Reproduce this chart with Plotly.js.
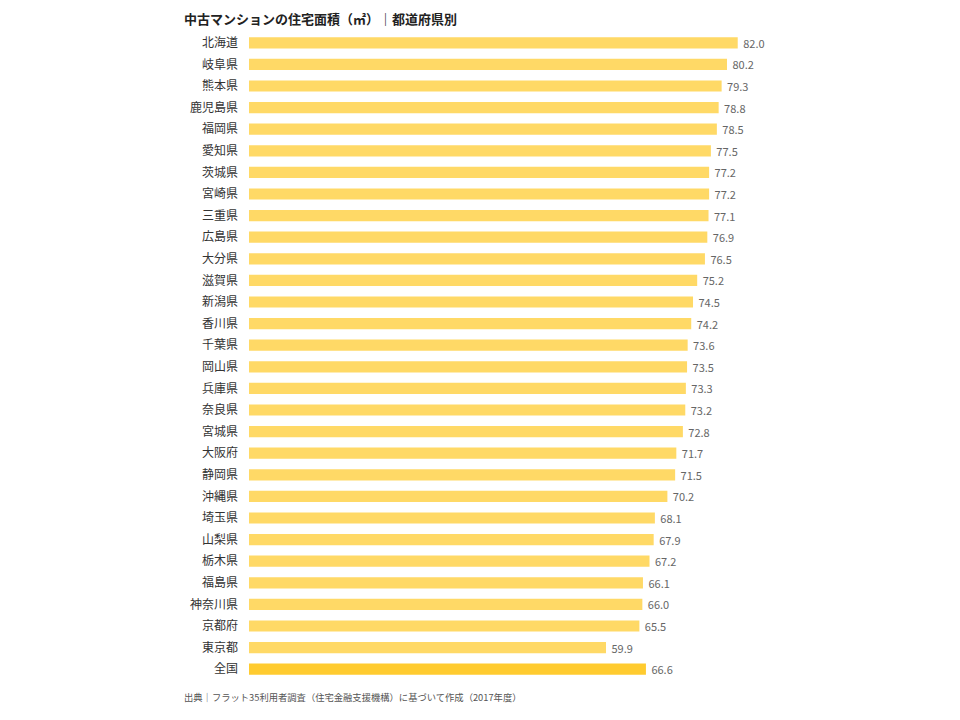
<!DOCTYPE html>
<html><head><meta charset="utf-8">
<script src="https://cdn.plot.ly/plotly-3.0.1.min.js"></script>
<style>html,body{margin:0;padding:0;background:#fff}#c{width:960px;height:720px}</style>
</head><body><div id="c"></div>
<script>
const categories = ["北海道","岐阜県","熊本県","鹿児島県","福岡県","愛知県","茨城県","宮崎県","三重県","広島県","大分県","滋賀県","新潟県","香川県","千葉県","岡山県","兵庫県","奈良県","宮城県","大阪府","静岡県","沖縄県","埼玉県","山梨県","栃木県","福島県","神奈川県","京都府","東京都","全国"];
const values = [82.0,80.2,79.3,78.8,78.5,77.5,77.2,77.2,77.1,76.9,76.5,75.2,74.5,74.2,73.6,73.5,73.3,73.2,72.8,71.7,71.5,70.2,68.1,67.9,67.2,66.1,66.0,65.5,59.9,66.6];
const titleText = "中古マンションの住宅面積（㎡）｜都道府県別";
const sourceText = "出典｜フラット35利用者調査（住宅金融支援機構）に基づいて作成（2017年度）";

const colors = categories.map(c => c === "全国" ? "#FFCB2F" : "#FFD966");
const font = "'Noto Sans CJK JP', 'Noto Sans', sans-serif";

Plotly.newPlot("c", [{
  type: "bar", orientation: "h",
  x: values, y: categories,
  marker: {color: colors, line: {width: 0}},
  width: 0.52,
  text: values.map(v => " " + v.toFixed(1)),
  textposition: "outside",
  constraintext: "none",
  textfont: {family: font, size: 11, color: "#666"},
  cliponaxis: false,
  hoverinfo: "none"
}], {
  width: 960, height: 720,
  margin: {l: 249, r: 115, t: 32, b: 40},
  paper_bgcolor: "#fff", plot_bgcolor: "#fff",
  font: {family: font, color: "#333", size: 12},
  xaxis: {range: [0, 100], visible: false, fixedrange: true},
  yaxis: {autorange: "reversed", type: "category", showgrid: false, zeroline: false, showline: false,
          ticks: "", ticklabelstandoff: 10, tickfont: {family: font, size: 12, color: "#333"}},
  showlegend: false,
  annotations: [
    {text: titleText, xref: "paper", yref: "paper", x: -0.113, y: 1.0, yshift: 14, xanchor: "left", yanchor: "middle",
     showarrow: false, font: {family: font, size: 13, color: "#222", weight: "bold"}},
    {text: sourceText, xref: "paper", yref: "paper", x: -0.112, y: 0, yshift: -17, xanchor: "left", yanchor: "middle",
     showarrow: false, font: {family: font, size: 9.3, color: "#555"}}
  ]
}, {displayModeBar: false, staticPlot: true});
</script></body></html>
